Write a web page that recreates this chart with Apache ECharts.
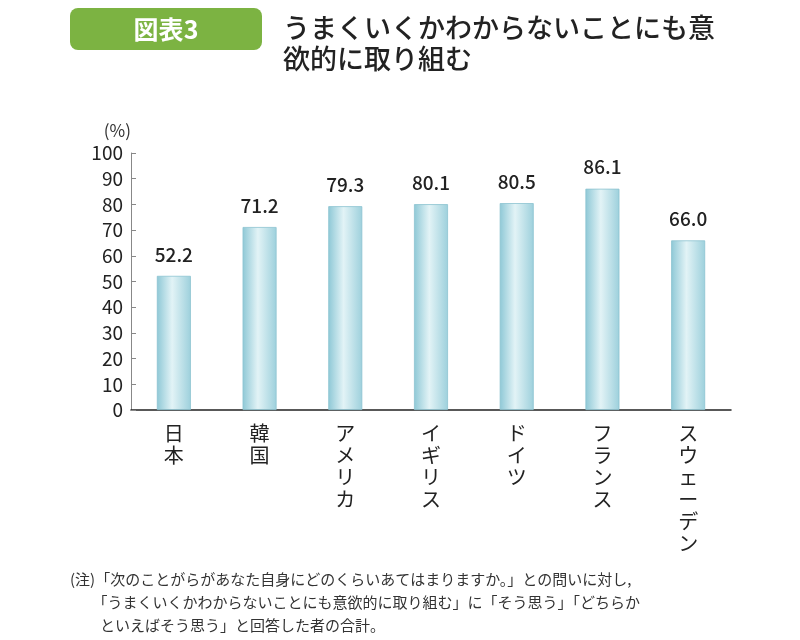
<!DOCTYPE html>
<html><head><meta charset="utf-8">
<script src="https://cdn.jsdelivr.net/npm/echarts@6/dist/echarts.min.js"></script>
<style>body{margin:0;background:#fff}#main{width:800px;height:640px}</style>
</head><body><div id="main"></div>
<script>
// 国別データ
var countries = ['日本', '韓国', 'アメリカ', 'イギリス', 'ドイツ', 'フランス', 'スウェーデン'];
var values = [52.2, 71.2, 79.3, 80.1, 80.5, 86.1, 66.0];
var yTicks = [0, 10, 20, 30, 40, 50, 60, 70, 80, 90, 100];

var FONT = '"Noto Sans CJK JP", sans-serif';
var myChart = echarts.init(document.getElementById('main'));
var option = {
  animation: false,
  textStyle: { fontFamily: FONT },
  graphic: [
    { type: 'rect', shape: { x: 70, y: 8, width: 192, height: 42, r: 8 }, style: { fill: '#7cb342' } },
    { type: 'text', x: 166, y: 29, style: { text: '図表3', fill: '#fff', font: 'bold 25px ' + FONT, align: 'center', verticalAlign: 'middle' } },
    { type: 'text', x: 283, y: 12, style: { text: 'うまくいくかわからないことにも意\n欲的に取り組む', fill: '#222', font: '500 27px ' + FONT, lineHeight: 31 } },
    { type: 'text', x: 70, y: 568, style: { text: '(注)「次のことがらがあなた自身にどのくらいあてはまりますか。」との問いに対し,\n　　「うまくいくかわからないことにも意欲的に取り組む」に「そう思う」「どちらか\n　　といえばそう思う」と回答した者の合計。', fill: '#333', font: '15px ' + FONT, lineHeight: 23 } }
  ],
  grid: { left: 131, right: 69, top: 153, bottom: 230 },
  xAxis: {
    type: 'category',
    data: countries,
    axisLine: { lineStyle: { color: '#222', width: 1.5 } },
    axisTick: { show: false },
    axisLabel: {
      color: '#222', fontSize: 20, lineHeight: 22, margin: 12, verticalAlign: 'top',
      formatter: function (v) { return v.split('').join('\n'); }
    }
  },
  yAxis: {
    type: 'value', min: 0, max: 100, interval: 10,
    name: '(%)', nameLocation: 'end', nameGap: 14,
    nameTextStyle: { color: '#333', fontSize: 17, align: 'right' },
    axisLine: { show: true, lineStyle: { color: '#888' } },
    axisTick: { show: true, inside: true, length: 5, lineStyle: { color: '#888' } },
    splitLine: { show: false },
    axisLabel: { color: '#222', fontSize: 19, margin: 8,
      formatter: function (v) { return yTicks.indexOf(v) >= 0 ? String(v) : ''; } }
  },
  series: [{
    type: 'bar',
    data: values,
    barWidth: 34,
    itemStyle: {
      color: new echarts.graphic.LinearGradient(0, 0, 1, 0, [
        { offset: 0, color: '#8ec8d6' },
        { offset: 0.45, color: '#e2f3f6' },
        { offset: 1, color: '#9dd0dc' }
      ]),
      borderColor: '#8cc3d0', borderWidth: 0.8
    },
    label: {
      show: true, position: 'top', distance: 12, color: '#222', fontSize: 19, fontWeight: 500,
      formatter: function (p) { return p.value.toFixed(1); }
    }
  }]
};
myChart.setOption(option);
</script></body></html>
